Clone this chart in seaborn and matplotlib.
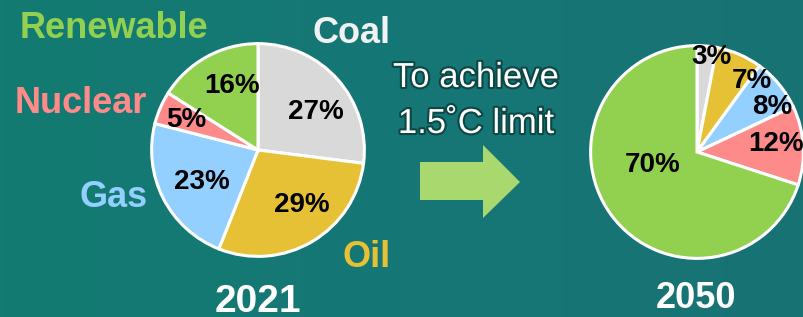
import matplotlib
matplotlib.use("Agg")
import matplotlib.pyplot as plt
import matplotlib.patheffects as pe
from matplotlib.colors import LinearSegmentedColormap
from matplotlib.patches import Polygon
import numpy as np
import seaborn as sns

# data
sources = ["Coal", "Oil", "Gas", "Nuclear", "Renewable"]
share_2021 = [27, 29, 23, 5, 16]
share_2050 = [3, 7, 8, 12, 70]
years = ["2021", "2050"]
caption = ["To achieve", "1.5˚C limit"]

# style
slice_colors = ["#D9D9D9", "#E6C136", "#93CFFF", "#FF8A8A", "#92D050"]
name_colors = ["#F2F2F2", "#E6C136", "#93CFFF", "#FF8A8A", "#92D050"]
W, H = 804, 317


def set_style():
    sns.set_theme(style="white")
    plt.rcParams['font.family'] = ['Liberation Sans', 'DejaVu Sans']


def fx(x):
    return x / W


def fy(y):
    return 1 - y / H


def draw_pie(fig, cx, cy, r, values, lab_radius, lab_shift):
    ax = fig.add_axes([fx(cx - r), fy(cy + r), 2 * r / W, 2 * r / H])
    wedges, _ = ax.pie(values, colors=slice_colors, startangle=90, counterclock=False,
                       radius=0.985, wedgeprops=dict(edgecolor="white", linewidth=2.2))
    for w in wedges:
        w.set_clip_on(False)
    ax.set_xlim(-1, 1)
    ax.set_ylim(-1, 1)
    ax.axis("off")
    # percentage labels
    for w, v, rr, sh in zip(wedges, values, lab_radius, lab_shift):
        ang = np.deg2rad((w.theta1 + w.theta2) / 2 + sh)
        ax.text(rr * np.cos(ang), rr * np.sin(ang), f"{v}%", ha="center", va="center",
                fontsize=20, fontweight="bold", color="black")
    return ax


set_style()
fig = plt.figure(figsize=(W / 100, H / 100), dpi=100)

# teal background with a soft gradient
bg = fig.add_axes([0, 0, 1, 1])
cmap = LinearSegmentedColormap.from_list("bg", ["#137B71", "#167776", "#187274"])
grad = np.linspace(0, 1, 256).reshape(1, -1)
bg.imshow(grad, cmap=cmap, aspect="auto", extent=[0, 1, 0, 1])
bg.axis("off")

draw_pie(fig, 258, 150, 108, share_2021,
         [0.64, 0.65, 0.60, 0.72, 0.64], [-8, 8, 3, 1, -7])
draw_pie(fig, 697, 152, 108, share_2050,
         [0.89, 0.83, 0.81, 0.74, 0.43], [-3, -14, -9, 2, -20])

# source names around the 2021 pie
name_pos = {"Coal": (313, 43), "Oil": (343, 267), "Gas": (80, 207),
            "Nuclear": (15, 113), "Renewable": (20, 38)}
for name, col in zip(sources, name_colors):
    x, y = name_pos[name]
    fig.text(fx(x), fy(y), name, ha="left", va="baseline", fontsize=26,
             fontweight="bold", color=col)

# year captions
fig.text(fx(258), fy(312), years[0], ha="center", va="baseline", fontsize=28,
         fontweight="bold", color="white")
fig.text(fx(696), fy(308), years[1], ha="center", va="baseline", fontsize=26,
         fontweight="bold", color="white")

# middle text and arrow
outline = [pe.withStroke(linewidth=3, foreground="#0B4744")]
fig.text(fx(476), fy(87), caption[0], ha="center", va="baseline", fontsize=25,
         color="white", path_effects=outline)
fig.text(fx(476), fy(133), caption[1], ha="center", va="baseline", fontsize=25,
         color="white", path_effects=outline)

arrow_px = [(420, 162), (483, 162), (483, 145), (520, 182), (483, 218), (483, 200), (420, 200)]
arrow = Polygon([(fx(x), fy(y)) for x, y in arrow_px], closed=True,
                facecolor="#A8D86E", edgecolor="none", transform=fig.transFigure)
fig.patches.append(arrow)

fig.savefig("out.png", dpi=100)
